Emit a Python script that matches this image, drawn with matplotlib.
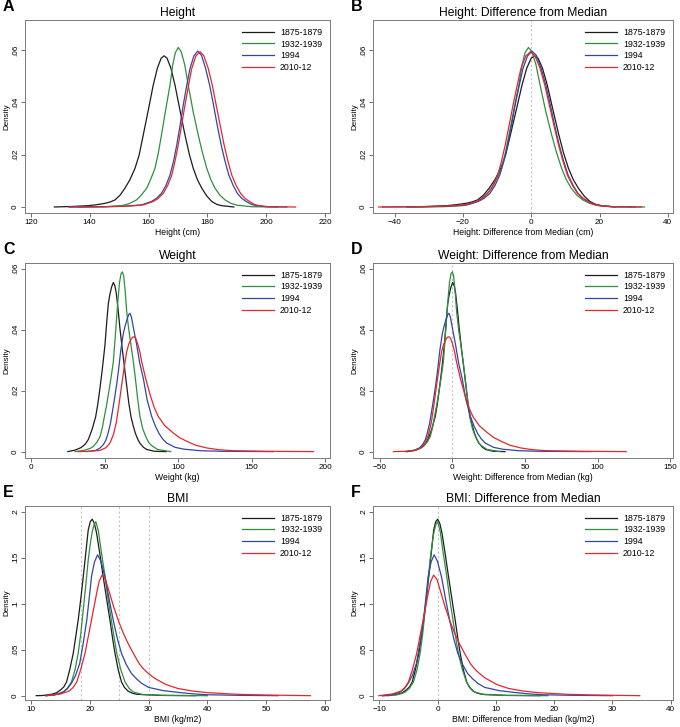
import numpy as np
import matplotlib
matplotlib.use('Agg')
import matplotlib.pyplot as plt
from matplotlib.ticker import FuncFormatter

plt.rcParams['font.family'] = ['Liberation Sans', 'DejaVu Sans']

periods = ['1875-1879', '1932-1939', '1994', '2010-12']
colors = ['#1c1c1c', '#2f8f3f', '#3346a3', '#e2282f']

# --- height (cm), density curves
h1_x = [128, 134, 139.5, 142.5, 145.2, 146.9, 148.6, 150.3, 152, 153.7, 155.4, 156.8, 158.2, 160, 161.6, 163, 164.3, 165.3,
        166.3, 167.6, 169, 170.6, 172.4, 173.8, 175.2, 176.6, 178.1, 179.8, 181.5, 183.2, 184.9, 189]
h1_y = [0, 0.0002, 0.0005, 0.0009, 0.0014, 0.0019, 0.0027, 0.0045, 0.0072, 0.0105, 0.0148, 0.0198, 0.0275, 0.0375, 0.0466, 0.0531, 0.0569, 0.0578,
        0.0569, 0.0531, 0.0466, 0.0375, 0.0275, 0.0205, 0.0148, 0.0105, 0.0072, 0.0042, 0.0021, 0.001, 0.0005, 0]
h2_x = [136, 145, 150.9, 153.5, 155.9, 157.5, 159.4, 160.8, 162.2, 163.3, 164.4, 165.8, 167.3, 168.2, 169.1, 170.1,
        171.1, 172.3, 173.5, 175.2, 176.9, 178.3, 179.8, 181.2, 182.6, 184.3, 186, 188, 190, 195, 204]
h2_y = [0, 0.0001, 0.0005, 0.0013, 0.0027, 0.0045, 0.0072, 0.0108, 0.0148, 0.0205, 0.0275, 0.037, 0.0466, 0.0542, 0.059, 0.061,
        0.0594, 0.0544, 0.0466, 0.0363, 0.0275, 0.0209, 0.0148, 0.0104, 0.0072, 0.0045, 0.0027, 0.0014, 0.0007, 0.0001, 0]
h3_x = [133, 145, 152, 157.6, 161, 162.7, 164.4, 165.9, 167.3, 168.5, 169.6, 170.7, 171.8, 173, 174.1, 175.4, 176.7,
        178, 179.4, 180.8, 182.1, 183.4, 184.7, 186, 187.3, 188.8, 190.2, 191.7, 193.2, 195, 196.7, 200, 207]
h3_y = [0, 0.0001, 0.0003, 0.0008, 0.0021, 0.0033, 0.0052, 0.0082, 0.0122, 0.0175, 0.0237, 0.031, 0.039, 0.0465, 0.053, 0.0577, 0.0596,
        0.058, 0.053, 0.0465, 0.039, 0.031, 0.0237, 0.0175, 0.0122, 0.0082, 0.0052, 0.0033, 0.0021, 0.001, 0.0005, 0.0001, 0]
h4_x = [133, 145, 153, 158.3, 161.6, 163.3, 165, 166.5, 167.9, 169, 170.1, 171.2, 172.4, 173.6, 174.7, 176.1, 177.5,
        178.8, 180.3, 181.7, 183, 184.4, 185.7, 187, 188.3, 189.8, 191.3, 192.8, 194.3, 196, 197.5, 201, 210]
h4_y = [0, 0.0001, 0.0003, 0.0008, 0.0021, 0.0033, 0.0052, 0.0082, 0.0122, 0.0175, 0.0237, 0.031, 0.039, 0.0465, 0.053, 0.0577, 0.0594,
        0.0578, 0.053, 0.0465, 0.039, 0.031, 0.0237, 0.0175, 0.0122, 0.0082, 0.0052, 0.0033, 0.0021, 0.001, 0.0005, 0.0001, 0]
height_median = [164.3, 170.9, 176.5, 177.7]

# --- weight (kg), panel C
w1_x = [25, 30, 34, 37, 39, 41.5, 44, 45.5, 46.9, 48.6, 50.3, 51.5, 52.6, 53.6, 54.8, 56, 57, 58, 59.2, 60.5,
        62, 63.5, 65, 66.5, 68, 69.5, 71, 72.5, 74, 76.5, 78.7, 84, 92]
w1_y = [0, 0.0005, 0.0013, 0.0025, 0.004, 0.0072, 0.0115, 0.0158, 0.0208, 0.0275, 0.035, 0.0425, 0.0486, 0.0515, 0.054, 0.0555, 0.0545, 0.052, 0.0468, 0.0404,
        0.034, 0.028, 0.022, 0.016, 0.0115, 0.0085, 0.006, 0.0042, 0.0028, 0.0014, 0.0007, 0.0001, 0]
w2_x = [30, 36, 40, 42.4, 45, 47, 48.5, 49.9, 51.3, 52.6, 54.3, 56, 57.5, 59, 60.2, 61.2, 62.1, 63, 64, 65.1,
        66.5, 68, 69.6, 71, 72.5, 74.1, 76, 78, 80, 82, 86, 95]
w2_y = [0, 0.0004, 0.001, 0.0017, 0.0032, 0.005, 0.0078, 0.0115, 0.015, 0.0187, 0.0238, 0.0295, 0.039, 0.049, 0.0555, 0.0583, 0.059, 0.0578, 0.053, 0.0459,
        0.04, 0.035, 0.0295, 0.024, 0.0175, 0.0115, 0.0075, 0.005, 0.003, 0.002, 0.0007, 0]
w3_x = [38, 44, 47, 49.2, 51, 52.5, 54, 55.5, 57, 58.3, 59.4, 61, 62.8, 64, 65.5, 66.5, 67.3, 68.3, 69.5, 70.7, 71.9,
        74, 76.4, 79, 82.1, 84.5, 87, 89.5, 92.3, 98, 104, 115, 130, 165]
w3_y = [0, 0.0004, 0.0012, 0.0023, 0.0038, 0.0062, 0.0092, 0.0135, 0.018, 0.0222, 0.0262, 0.033, 0.0388, 0.0412, 0.0437, 0.045, 0.0454, 0.0442, 0.041, 0.038, 0.035,
        0.029, 0.024, 0.017, 0.0115, 0.0085, 0.006, 0.0042, 0.0028, 0.0014, 0.0008, 0.0003, 0.0001, 0]
w4_x = [32, 40, 47, 51, 53.7, 56, 58, 60, 61.7, 63.5, 65.1, 66.5, 68, 69, 70.1, 71.2, 72.5, 74, 75.3, 78, 81,
        83.8, 86.6, 91, 96.8, 101, 105.9, 112, 119.5, 128, 137.6, 160, 192]
w4_y = [0, 0.0001, 0.0004, 0.0013, 0.0028, 0.0055, 0.0095, 0.016, 0.022, 0.028, 0.0328, 0.0353, 0.0368, 0.0375, 0.0377, 0.0372, 0.0355, 0.0328, 0.0295, 0.024, 0.0187,
        0.0145, 0.0115, 0.0085, 0.0061, 0.0046, 0.0034, 0.0021, 0.0012, 0.0006, 0.0003, 0.0001, 0]
weight_median = [55.7, 62.1, 69.6, 72.4]

# --- BMI (kg/m2), panel E
b1_x = [10.9, 12, 13.5, 14.3, 15, 15.6, 16.07, 16.6, 17.2, 17.6, 18.04, 18.5, 18.9, 19.35, 19.75, 20.1, 20.43,
        20.8, 21.17, 21.7, 22.3, 22.9, 23.44, 23.9, 24.3, 24.85, 25.4, 25.9, 26.5, 27.2, 28, 32, 38]
b1_y = [0, 0.0002, 0.0015, 0.003, 0.006, 0.0095, 0.015, 0.028, 0.046, 0.063, 0.082, 0.106, 0.129, 0.156, 0.18, 0.189, 0.1917,
        0.187, 0.1765, 0.155, 0.129, 0.104, 0.082, 0.062, 0.046, 0.028, 0.015, 0.009, 0.005, 0.0028, 0.0015, 0.0003, 0]
b2_x = [12.5, 14, 15, 15.5, 16.2, 16.9, 17.5, 18.04, 18.5, 18.9, 19.35, 19.75, 20.1, 20.4, 20.75, 21.05,
        21.5, 22.0, 22.6, 23.15, 23.9, 24.6, 25.3, 26.0, 26.7, 27.4, 29, 33, 40]
b2_y = [0, 0.0008, 0.0025, 0.004, 0.008, 0.015, 0.028, 0.046, 0.068, 0.093, 0.121, 0.1475, 0.165, 0.177, 0.186, 0.189,
        0.178, 0.155, 0.13, 0.104, 0.073, 0.046, 0.028, 0.015, 0.008, 0.004, 0.0012, 0.0003, 0]
b3_x = [12.5, 14, 15.5, 16.2, 16.9, 17.6, 18.3, 18.9, 19.5, 19.9, 20.3, 20.8, 21.34, 21.9, 22.6, 23.3, 24.0, 24.7, 25.4,
        26.2, 27.1, 28, 28.8, 30, 32.5, 35, 37.5, 40, 45, 52]
b3_y = [0, 0.0008, 0.004, 0.0075, 0.0135, 0.022, 0.035, 0.057, 0.082, 0.105, 0.129, 0.145, 0.153, 0.146, 0.129, 0.105, 0.082, 0.062, 0.046,
        0.034, 0.024, 0.018, 0.0135, 0.009, 0.0055, 0.0036, 0.002, 0.001, 0.0004, 0]
b4_x = [12.7, 15, 16.5, 17.2, 17.8, 18.5, 19.2, 19.75, 20.3, 20.75, 21.17, 21.6, 22.1, 22.7, 23.4, 24.1, 24.85, 25.7, 26.5,
        27.5, 28.5, 29.3, 30, 31, 33, 35, 37.5, 40, 45, 50, 57.5]
b4_y = [0, 0.0018, 0.005, 0.009, 0.015, 0.029, 0.046, 0.064, 0.082, 0.097, 0.111, 0.124, 0.131, 0.126, 0.111, 0.096, 0.082, 0.068, 0.057,
        0.045, 0.034, 0.028, 0.024, 0.019, 0.012, 0.0078, 0.005, 0.0033, 0.0015, 0.0007, 0]
bmi_median = [20.43, 21.05, 21.94, 22.8]
bmi_cutoffs = [18.5, 25, 30]

W, H = 680, 727
fig = plt.figure(figsize=(W / 100, H / 100), dpi=100)


def nolead(v, pos):
    if v == 0:
        return '0'
    return ('%g' % v).replace('0.', '.')


def panel(px, letter, title, xs, ys, shift, xlabel, xlim, xticks, ylim, yticks, vlines):
    l, t, r, b = px
    ax = fig.add_axes([l / W, 1 - b / H, (r - l) / W, (b - t) / H])
    if vlines:
        for v in vlines:
            ax.axvline(v, color='#c4c4c4', lw=0.8, ls=(0, (2, 2)), zorder=1)
    for x, y, m, c, lab in zip(xs, ys, shift, colors, periods):
        ax.plot(np.array(x) - m, y, color=c, lw=0.9, label=lab, zorder=2, solid_joinstyle='round')
    ax.set_xlim(xlim)
    ax.set_ylim(ylim)
    ax.set_xticks(xticks)
    ax.set_yticks(yticks)
    ax.yaxis.set_major_formatter(FuncFormatter(nolead))
    ax.tick_params(labelsize=5.9, length=3, width=0.6, color='#555555', pad=1.5)
    for lbl in ax.get_yticklabels():
        lbl.set_rotation(90)
        lbl.set_va('center')
    for s in ax.spines.values():
        s.set_color('#7a7a7a')
        s.set_linewidth(0.7)
    ax.set_title(title, fontsize=8.7, pad=3)
    ax.set_xlabel(xlabel, fontsize=6.2, labelpad=1)
    ax.set_ylabel('Density', fontsize=5.8, labelpad=1)
    ax.legend(loc='upper right', frameon=False, fontsize=6.3, handlelength=3.7,
              handletextpad=0.7, labelspacing=0.3, borderaxespad=0.5)
    fig.text((l - 22) / W, 1 - (t - 6) / H, letter, fontsize=11.5, fontweight='bold', va='bottom')
    return ax


height_curves = ([h1_x, h2_x, h3_x, h4_x], [h1_y, h2_y, h3_y, h4_y])
weight_curves = ([w1_x, w2_x, w3_x, w4_x], [w1_y, w2_y, w3_y, w4_y])
bmi_curves = ([b1_x, b2_x, b3_x, b4_x], [b1_y, b2_y, b3_y, b4_y])
zero = [0, 0, 0, 0]

panel((25, 20, 330, 213), 'A', 'Height', *height_curves, zero, 'Height (cm)',
      (118.0, 221.7), [120, 140, 160, 180, 200, 220], (-0.0023, 0.0715), [0, .02, .04, .06], None)
panel((373, 20, 673, 213), 'B', 'Height: Difference from Median', *height_curves, height_median,
      'Height: Difference from Median (cm)', (-46.3, 41.5), [-40, -20, 0, 20, 40],
      (-0.0023, 0.0715), [0, .02, .04, .06], [0])
panel((25, 263, 330, 458), 'C', 'Weight', *weight_curves, zero, 'Weight (kg)',
      (-4.1, 203.4), [0, 50, 100, 150, 200], (-0.0021, 0.0619), [0, .02, .04, .06], None)
panel((373, 263, 673, 458), 'D', 'Weight: Difference from Median', *weight_curves, weight_median,
      'Weight: Difference from Median (kg)', (-54.5, 151.8), [-50, 0, 50, 100, 150],
      (-0.0021, 0.0619), [0, .02, .04, .06], [0])
panel((25, 506, 330, 700), 'E', 'BMI', *bmi_curves, zero, 'BMI (kg/m2)',
      (9.0, 60.85), [10, 20, 30, 40, 50, 60], (-0.0047, 0.206), [0, .05, .1, .15, .2], bmi_cutoffs)
panel((373, 506, 673, 700), 'F', 'BMI: Difference from Median', *bmi_curves, bmi_median,
      'BMI: Difference from Median (kg/m2)', (-11.1, 40.4), [-10, 0, 10, 20, 30, 40],
      (-0.0047, 0.206), [0, .05, .1, .15, .2], [0])

fig.savefig('out.png', dpi=100)
